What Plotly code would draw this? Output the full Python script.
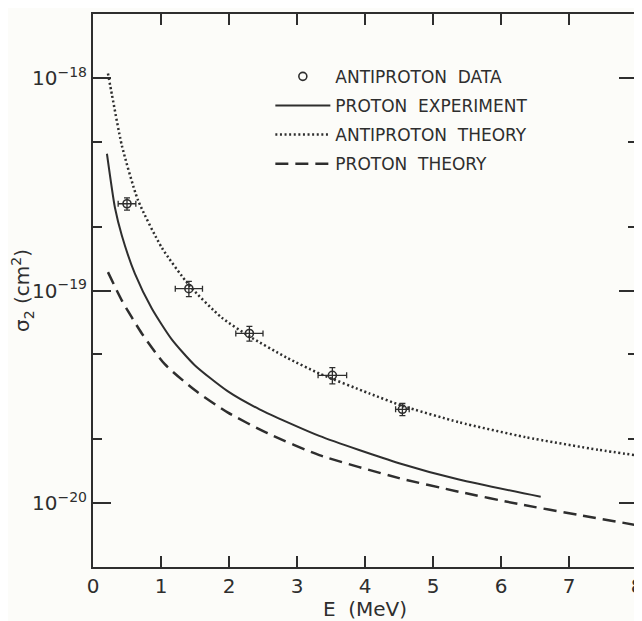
import plotly.graph_objects as go

# Antiproton data (points with error bars)
data_E = [0.50, 1.41, 2.30, 3.52, 4.55]
data_sigma = [2.56e-19, 1.02e-19, 6.28e-20, 3.99e-20, 2.76e-20]
data_E_err = [0.13, 0.20, 0.20, 0.21, 0.10]
data_sigma_err = [1.7e-20, 0.85e-20, 0.5e-20, 0.35e-20, 0.18e-20]

# Proton experiment (solid)
pexp_E = [0.205, 0.323, 0.425, 0.616, 0.865, 1.158, 1.496, 1.979, 2.449, 3.328, 4.501, 5.381, 6.584]
pexp_sigma = [4.40e-19, 2.45e-19, 1.81e-19, 1.20e-19, 8.23e-20, 5.89e-20, 4.45e-20,
              3.36e-20, 2.76e-20, 2.07e-20, 1.54e-20, 1.29e-20, 1.07e-20]

# Antiproton theory (dotted)
apth_E = [0.22, 0.279, 0.425, 0.660, 1.012, 1.422, 1.891, 2.302, 2.845, 3.328, 4.062,
          4.545, 5.381, 6.364, 7.434, 7.977]
apth_sigma = [1.05e-18, 8.32e-19, 4.80e-19, 2.67e-19, 1.59e-19, 1.05e-19, 7.46e-20,
              6.08e-20, 4.84e-20, 4.07e-20, 3.28e-20, 2.87e-20, 2.40e-20, 2.04e-20,
              1.78e-20, 1.68e-20]

# Proton theory (dashed)
pth_E = [0.22, 0.425, 0.718, 1.056, 1.496, 1.979, 2.566, 3.328, 4.501, 5.381, 6.261, 7.141, 7.977]
pth_sigma = [1.22e-19, 8.97e-20, 6.28e-20, 4.50e-20, 3.40e-20, 2.67e-20, 2.13e-20,
             1.68e-20, 1.31e-20, 1.13e-20, 9.89e-21, 8.79e-21, 7.89e-21]

x_ticks = [0, 1, 2, 3, 4, 5, 6, 7, 8]
y_major = [1e-20, 1e-19, 1e-18]
y_major_text = ["10<sup>−20</sup>", "10<sup>−19</sup>", "10<sup>−18</sup>"]
y_minor = [2e-20, 5e-20, 2e-19, 5e-19]

INK = "#2e2e2e"
BG = "#fcfcf9"
FONT = "DejaVu Sans"

fig = go.Figure()

fig.add_trace(go.Scatter(
    x=data_E, y=data_sigma, mode="markers", name="ANTIPROTON  DATA",
    legendgroup="a",
    marker=dict(symbol="circle-open", size=8, color=INK, line=dict(width=1.6, color=INK)),
    error_x=dict(type="data", array=data_E_err, color=INK, thickness=1.3, width=3),
    error_y=dict(type="data", array=data_sigma_err, color=INK, thickness=1.3, width=3),
))
fig.add_trace(go.Scatter(
    x=pexp_E, y=pexp_sigma, mode="lines", name="PROTON  EXPERIMENT",
    legendgroup="b", line=dict(color=INK, width=2, shape="spline", smoothing=0.6),
))
fig.add_trace(go.Scatter(
    x=apth_E, y=apth_sigma, mode="lines", name="ANTIPROTON  THEORY",
    legendgroup="c", line=dict(color=INK, width=2.5, dash="2px,2.6px", shape="spline", smoothing=0.6),
))
fig.add_trace(go.Scatter(
    x=pth_E, y=pth_sigma, mode="lines", name="PROTON  THEORY",
    legendgroup="d", line=dict(color=INK, width=2.5, dash="13px,7px", shape="spline", smoothing=0.6),
))

# The page body adds an 8px offset; the figure is sized/margined to compensate.
fig.update_layout(
    width=634, height=613,
    margin=dict(l=85, r=5, t=6, b=54, autoexpand=False),
    paper_bgcolor=BG, plot_bgcolor=BG,
    font=dict(family=FONT, color=INK, size=20),
    showlegend=True,
    legend=dict(
        x=0.326, y=0.919, xanchor="left", yanchor="top",
        bgcolor="rgba(0,0,0,0)", font=dict(size=17, family=FONT, color=INK),
        traceorder="grouped", tracegroupgap=4, itemwidth=55,
    ),
    xaxis=dict(
        range=[0, 8], tickmode="array", tickvals=x_ticks,
        ticks="inside", ticklen=11, tickwidth=1.5, tickcolor=INK,
        showline=True, linewidth=2, linecolor=INK, mirror="ticks",
        showgrid=False, zeroline=False, automargin=False,
        ticklabeloverflow="allow",
        tickfont=dict(size=20),
        title=dict(text="E  (MeV)", font=dict(size=20), standoff=2),
    ),
    yaxis=dict(
        type="log", range=[-20.301, -17.699],
        tickmode="array", tickvals=y_major, ticktext=y_major_text,
        ticks="inside", ticklen=18, tickwidth=1.5, tickcolor=INK,
        showline=True, linewidth=2, linecolor=INK, mirror="ticks",
        showgrid=False, zeroline=False, automargin=False,
        tickfont=dict(size=20),
        minor=dict(tickmode="array", tickvals=y_minor, ticks="inside",
                   ticklen=9, tickwidth=1.5, tickcolor=INK, showgrid=False),
        title=dict(text="σ<sub>2</sub> (cm<sup>2</sup>)", font=dict(size=20), standoff=10),
    ),
)

fig.write_html("out.html")
